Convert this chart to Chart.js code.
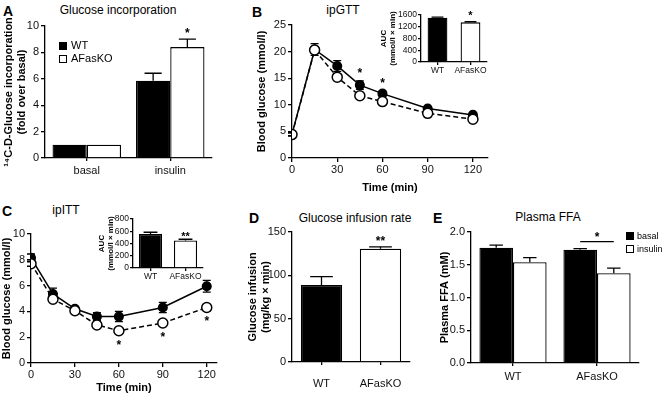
<!DOCTYPE html>
<html>
<head>
<meta charset="utf-8">
<script src="https://cdn.jsdelivr.net/npm/chart.js@4.4.0/dist/chart.umd.min.js"></script>
<style>
  html, body { margin: 0; padding: 0; background: #fff; }
  #fig { position: relative; width: 665px; height: 395px; overflow: hidden;
         font-family: "Liberation Sans", Arial, sans-serif; color: #000; }
  #fig canvas { position: absolute; }
  .lbl { position: absolute; white-space: nowrap; line-height: 1; }
  .panel { font-weight: bold; font-size: 14px; }
  .title { font-size: 12px; transform: translateX(-50%); }
  .leg { position: absolute; white-space: nowrap; line-height: 1; }
  .sw { display: inline-block; box-sizing: border-box; border: 1px solid #000; background: #fff; }
</style>
</head>
<body>
<div id="fig">
  <div class="lbl panel" style="left:3px;top:4px">A</div>
  <div class="lbl title" style="left:118px;top:4px">Glucose incorporation</div>
  <div class="lbl panel" style="left:252px;top:5px">B</div>
  <div class="lbl title" style="left:343px;top:4px">ipGTT</div>
  <div class="lbl panel" style="left:2px;top:204px">C</div>
  <div class="lbl title" style="left:66px;top:204px">ipITT</div>
  <div class="lbl panel" style="left:249px;top:211px">D</div>
  <div class="lbl title" style="left:355px;top:212px">Glucose infusion rate</div>
  <div class="lbl panel" style="left:433px;top:211px">E</div>
  <div class="lbl title" style="left:548px;top:211px">Plasma FFA</div>
</div>
<script>
// ── data ──
const genotypes = ['WT', 'AFasKO'];

// A: 14C-D-glucose incorporation (fold over basal)
const groupsA = ['basal', 'insulin'];
const wtA = [1.0, 5.85];
const wtAErr = [0, 0.57];
const koA = [1.0, 8.4];
const koAErr = [0, 0.6];
const starsA = [1];

// B: ipGTT, blood glucose (mmol/l)
const timeB = [0, 15, 30, 45, 60, 90, 120];
const wtB = [4.5, 20.4, 17.3, 13.7, 12.1, 9.3, 8.1];
const wtBErr = [0.3, 1.1, 1.0, 0.8, 0.4, 0.3, 0.3];
const koB = [4.4, 20.3, 15.2, 11.7, 10.6, 8.4, 7.3];
const koBErr = [0.3, 0.6, 0.5, 0.5, 0.4, 0.4, 0.4];
const starsB = [45, 60];
const aucB = [1505, 1350];
const aucBErr = [25, 20];

// C: ipITT, blood glucose (mmol/l)
const timeC = [0, 15, 30, 45, 60, 90, 120];
const wtC = [8.15, 5.35, 4.2, 3.6, 3.6, 4.3, 5.95];
const wtCErr = [0.3, 0.45, 0.15, 0.3, 0.4, 0.4, 0.45];
const koC = [7.7, 4.95, 4.05, 2.95, 2.5, 3.1, 4.3];
const koCErr = [0.2, 0.2, 0.1, 0.15, 0.15, 0.15, 0.25];
const starsC = [60, 90, 120];
const aucC = [557, 449];
const aucCErr = [27, 20];

// D: glucose infusion rate (mg/kg x min)
const girD = [88.8, 130.8];
const girDErr = [9.6, 2.0];

// E: plasma FFA (mM)
const conditionsE = ['basal', 'insulin'];
const ffaBasal = [1.76, 1.73];
const ffaBasalErr = [0.04, 0.015];
const ffaInsulin = [1.54, 1.37];
const ffaInsulinErr = [0.07, 0.08];

const FONT = '"Liberation Sans", Arial, sans-serif';

// ── plugins ──
function drawErr(chart, opts) {
  const ctx = chart.ctx, ys = chart.scales.y;
  ctx.save();
  ctx.strokeStyle = '#000';
  ctx.lineWidth = opts.lineWidth || 1.3;
  chart.data.datasets.forEach((ds, di) => {
    if (!ds.errs) return;
    chart.getDatasetMeta(di).data.forEach((el, i) => {
      const e = ds.errs[i];
      if (!e) return;
      const v = ds.vals[i];
      const top = ys.getPixelForValue(v + e);
      const bot = opts.both ? ys.getPixelForValue(v - e) : el.y;
      const half = opts.cap ? opts.cap / 2 : el.width * (opts.capFrac || 0.5) / 2;
      ctx.beginPath();
      ctx.moveTo(el.x, top); ctx.lineTo(el.x, bot);
      ctx.moveTo(el.x - half, top); ctx.lineTo(el.x + half, top);
      if (opts.both) { ctx.moveTo(el.x - half, bot); ctx.lineTo(el.x + half, bot); }
      ctx.stroke();
    });
  });
  ctx.restore();
}

const errorBars = {
  id: 'errorBars',
  beforeDatasetsDraw(chart, args, opts) { if (opts.under) drawErr(chart, opts); },
  afterDatasetsDraw(chart, args, opts) { if (!opts.under) drawErr(chart, opts); }
};

// asterisks placed above the error bar (or below the point)
const marks = {
  id: 'marks',
  afterDatasetsDraw(chart, args, opts) {
    const items = opts.items || [];
    const size = opts.size || 12;
    const ctx = chart.ctx, ys = chart.scales.y;
    ctx.save();
    ctx.fillStyle = '#000';
    ctx.strokeStyle = '#000';
    ctx.lineWidth = 1.3;
    ctx.font = 'bold ' + size + 'px ' + FONT;
    ctx.textAlign = 'center';
    ctx.textBaseline = 'alphabetic';
    const topOf = (di, i) => {
      const ds = chart.data.datasets[di];
      return ys.getPixelForValue(ds.vals[i] + (ds.errs[i] || 0));
    };
    items.forEach(it => {
      const el = chart.getDatasetMeta(it.ds).data[it.i];
      const cy = it.below ? el.y + it.gap : topOf(it.ds, it.i) - it.gap;
      ctx.fillText(it.text, el.x, cy + 0.57 * size);
    });
    const b = opts.bracket;
    if (b) {
      const ea = chart.getDatasetMeta(b.a).data[b.i];
      const eb = chart.getDatasetMeta(b.b).data[b.i];
      const y = Math.min(topOf(b.a, b.i), topOf(b.b, b.i)) - b.gap;
      ctx.beginPath();
      ctx.moveTo(ea.x, y); ctx.lineTo(eb.x, y);
      ctx.stroke();
      ctx.fillText('*', (ea.x + eb.x) / 2, y - 8 + 0.57 * size);
    }
    ctx.restore();
  }
};

Chart.register(errorBars, marks);
Chart.defaults.font.family = FONT;
Chart.defaults.color = '#000';
Chart.defaults.animation = false;
Chart.defaults.responsive = false;
Chart.defaults.devicePixelRatio = 1;
Chart.defaults.plugins.legend.display = false;
Chart.defaults.plugins.tooltip.enabled = false;

// ── helpers ──
function makeCanvas(box) {
  const c = document.createElement('canvas');
  c.width = box.w; c.height = box.h;
  c.style.left = box.x + 'px'; c.style.top = box.y + 'px';
  c.style.width = box.w + 'px'; c.style.height = box.h + 'px';
  document.getElementById('fig').appendChild(c);
  return c;
}

function layoutFor(box, area) {
  return { padding: { top: area.T - box.y, right: box.x + box.w - area.R, left: 0, bottom: 0 } };
}

function yAxis(box, area, o) {
  const ticks = { stepSize: o.step, autoSkip: false, font: { size: o.fs }, color: '#111', padding: o.tkpad || 2 };
  if (o.fmt) ticks.callback = o.fmt;
  return {
    type: 'linear', min: o.min, max: o.max,
    afterFit: s => { s.width = area.L - box.x; },
    border: { display: true, color: '#000', width: 1.3 },
    grid: { display: true, drawOnChartArea: false, drawTicks: true, tickLength: o.tl || 4, color: '#000', lineWidth: 1.3 },
    ticks: ticks,
    title: { display: true, text: o.title, color: '#000',
             font: { size: o.tfs, weight: 'bold', lineHeight: 1.15 }, padding: { top: o.tpad, bottom: 0 } }
  };
}

function xCat(box, area, o) {
  return {
    type: 'category',
    afterFit: s => { s.height = box.y + box.h - area.B; },
    border: { display: true, color: '#000', width: 1.3 },
    grid: { display: true, offset: false, drawOnChartArea: false, drawTicks: true, tickLength: o.tl || 3, color: '#000', lineWidth: 1.3 },
    ticks: { autoSkip: false, maxRotation: 0, font: { size: o.fs }, color: '#111', padding: o.pad || 1 }
  };
}

function xTime(box, area, o) {
  return {
    type: 'linear', min: 0, max: o.max,
    afterFit: s => { s.height = box.y + box.h - area.B; },
    border: { display: true, color: '#000', width: 1.3 },
    grid: { display: true, drawOnChartArea: false, drawTicks: true, tickLength: 4, color: '#000', lineWidth: 1.3 },
    ticks: { stepSize: 30, includeBounds: false, autoSkip: false, maxRotation: 0, font: { size: 11 }, color: '#111', padding: 1 },
    title: { display: true, text: 'Time (min)', color: '#000', font: { size: 11, weight: 'bold' }, padding: { top: 2, bottom: 0 } }
  };
}

function barSet(vals, errs, fill, extra) {
  return Object.assign({
    data: vals, vals: vals, errs: errs,
    backgroundColor: fill, borderColor: '#000', borderWidth: 1.3, borderSkipped: 'bottom'
  }, extra || {});
}

function lineSet(times, vals, errs, open) {
  return {
    data: times.map((t, i) => ({ x: t, y: vals[i] })), vals: vals, errs: errs,
    borderColor: '#000', borderWidth: 1.5, borderDash: open ? [5, 3] : [],
    pointRadius: open ? 5 : 4.3, pointBorderWidth: 1.5,
    pointBackgroundColor: open ? '#fff' : '#000', pointBorderColor: '#000',
    order: open ? 1 : 2, tension: 0
  };
}

function legend(x, y, names, fills, size, sw, gap) {
  const fig = document.getElementById('fig');
  names.forEach((n, i) => {
    const d = document.createElement('div');
    d.className = 'leg';
    d.style.left = x + 'px';
    d.style.top = (y + i * (sw + 5)) + 'px';
    d.style.fontSize = size + 'px';
    d.innerHTML = `<span class="sw" style="width:${sw}px;height:${sw}px;background:${fills[i]};margin-right:${gap}px;vertical-align:-1px"></span>${n}`;
    fig.appendChild(d);
  });
}

// ── A: glucose incorporation ──
(function () {
  const box = { x: 0, y: 0, w: 222, h: 182 };
  const area = { L: 45, T: 26, R: 212, B: 158 };
  new Chart(makeCanvas(box), {
    type: 'bar',
    data: {
      labels: groupsA,
      datasets: [
        barSet(wtA, wtAErr, '#000', { categoryPercentage: 0.82, barPercentage: 1.0 }),
        barSet(koA, koAErr, '#fff', { categoryPercentage: 0.82, barPercentage: 1.0 })
      ]
    },
    options: {
      layout: layoutFor(box, area),
      scales: {
        x: xCat(box, area, { fs: 11, tl: 0, pad: 3 }),
        y: yAxis(box, area, { min: 0, max: 10, step: 2, fs: 11,
          title: ['\u00b9\u2074C-D-Glucose incorporation', '(fold over basal)'], tfs: 11, tpad: 3 })
      },
      plugins: {
        errorBars: { capFrac: 0.5 },
        marks: { size: 12, items: starsA.map(i => ({ ds: 1, i: i, text: '*', gap: 9 })) }
      }
    }
  });
  legend(59, 40, genotypes, ['#000', '#fff'], 11, 8, 4);
})();

// ── B: ipGTT ──
(function () {
  const box = { x: 252, y: 0, w: 246, h: 195 };
  const area = { L: 292, T: 25, R: 488, B: 158 };
  new Chart(makeCanvas(box), {
    type: 'line',
    data: { datasets: [lineSet(timeB, wtB, wtBErr, false), lineSet(timeB, koB, koBErr, true)] },
    options: {
      layout: layoutFor(box, area),
      scales: {
        x: xTime(box, area, { max: 130 }),
        y: yAxis(box, area, { min: 0, max: 25, step: 5, fs: 11, title: 'Blood glucose (mmol/l)', tfs: 11, tpad: 4 })
      },
      plugins: {
        errorBars: { under: true, both: true, cap: 8 },
        marks: { size: 12, items: starsB.map(t => ({ ds: 0, i: timeB.indexOf(t), text: '*', gap: 11 })) }
      }
    }
  });

  const ibox = { x: 378, y: 2, w: 112, h: 76 };
  const iarea = { L: 421, T: 15, R: 487, B: 62 };
  new Chart(makeCanvas(ibox), {
    type: 'bar',
    data: {
      labels: genotypes,
      datasets: [barSet(aucB, aucBErr, ['#000', '#fff'], { categoryPercentage: 1.0, barPercentage: 0.6 })]
    },
    options: {
      layout: layoutFor(ibox, iarea),
      scales: {
        x: xCat(ibox, iarea, { fs: 8.5, tl: 3, pad: 0 }),
        y: yAxis(ibox, iarea, { min: 0, max: 1600, step: 400, fs: 8.5, fmt: v => v, tl: 3, tkpad: 1,
          title: ['AUC', '(mmol/l \u00d7 min)'], tfs: 8, tpad: 1 })
      },
      plugins: {
        errorBars: { capFrac: 0.6 },
        marks: { size: 11, items: [{ ds: 0, i: 1, text: '*', gap: 9 }] }
      }
    }
  });
})();

// ── C: ipITT ──
(function () {
  const box = { x: 0, y: 197, w: 225, h: 198 };
  const area = { L: 31, T: 234, R: 217, B: 363 };
  new Chart(makeCanvas(box), {
    type: 'line',
    data: { datasets: [lineSet(timeC, wtC, wtCErr, false), lineSet(timeC, koC, koCErr, true)] },
    options: {
      layout: layoutFor(box, area),
      scales: {
        x: xTime(box, area, { max: 127 }),
        y: yAxis(box, area, { min: 0, max: 10, step: 2, fs: 11, title: 'Blood glucose (mmol/l)', tfs: 11, tpad: 1 })
      },
      plugins: {
        errorBars: { under: true, both: true, cap: 8 },
        marks: { size: 12, items: starsC.map(t => ({ ds: 1, i: timeC.indexOf(t), text: '*', gap: 11, below: true })) }
      }
    }
  });

  const ibox = { x: 96, y: 205, w: 115, h: 78 };
  const iarea = { L: 133, T: 219, R: 203, B: 268 };
  new Chart(makeCanvas(ibox), {
    type: 'bar',
    data: {
      labels: genotypes,
      datasets: [barSet(aucC, aucCErr, ['#000', '#fff'], { categoryPercentage: 1.0, barPercentage: 0.66 })]
    },
    options: {
      layout: layoutFor(ibox, iarea),
      scales: {
        x: xCat(ibox, iarea, { fs: 8.5, tl: 3, pad: 0 }),
        y: yAxis(ibox, iarea, { min: 0, max: 800, step: 200, fs: 8.5, fmt: v => v, tl: 3, tkpad: 1,
          title: ['AUC', '(mmol/l \u00d7 min)'], tfs: 8, tpad: 1 })
      },
      plugins: {
        errorBars: { capFrac: 0.6 },
        marks: { size: 11, items: [{ ds: 0, i: 1, text: '**', gap: 6 }] }
      }
    }
  });
})();

// ── D: glucose infusion rate ──
(function () {
  const box = { x: 245, y: 200, w: 170, h: 195 };
  const area = { L: 292, T: 232, R: 410, B: 362 };
  new Chart(makeCanvas(box), {
    type: 'bar',
    data: {
      labels: genotypes,
      datasets: [barSet(girD, girDErr, ['#000', '#fff'], { categoryPercentage: 1.0, barPercentage: 0.7 })]
    },
    options: {
      layout: layoutFor(box, area),
      scales: {
        x: xCat(box, area, { fs: 11, tl: 0, pad: 12 }),
        y: yAxis(box, area, { min: 0, max: 150, step: 50, fs: 11,
          title: ['Glucose infusion', '(mg/kg \u00d7 min)'], tfs: 11, tpad: 2 })
      },
      plugins: {
        errorBars: { capFrac: 0.55 },
        marks: { size: 12, items: [{ ds: 0, i: 1, text: '**', gap: 9 }] }
      }
    }
  });
})();

// ── E: plasma FFA ──
(function () {
  const box = { x: 438, y: 200, w: 227, h: 195 };
  const area = { L: 471, T: 232, R: 639, B: 363 };
  new Chart(makeCanvas(box), {
    type: 'bar',
    data: {
      labels: genotypes,
      datasets: [
        barSet(ffaBasal, ffaBasalErr, '#000', { categoryPercentage: 0.8, barPercentage: 1.0 }),
        barSet(ffaInsulin, ffaInsulinErr, '#fff', { categoryPercentage: 0.8, barPercentage: 1.0 })
      ]
    },
    options: {
      layout: layoutFor(box, area),
      scales: {
        x: xCat(box, area, { fs: 11, tl: 0, pad: 4 }),
        y: yAxis(box, area, { min: 0, max: 2, step: 0.5, fs: 11, fmt: v => v.toFixed(1),
          title: 'Plasma FFA (mM)', tfs: 11, tpad: 1 })
      },
      plugins: {
        errorBars: { capFrac: 0.4 },
        marks: { size: 12, bracket: { a: 0, b: 1, i: 1, gap: 7 } }
      }
    }
  });
  legend(626, 232, conditionsE, ['#000', '#fff'], 9, 8, 3);
})();
</script>
</body>
</html>
